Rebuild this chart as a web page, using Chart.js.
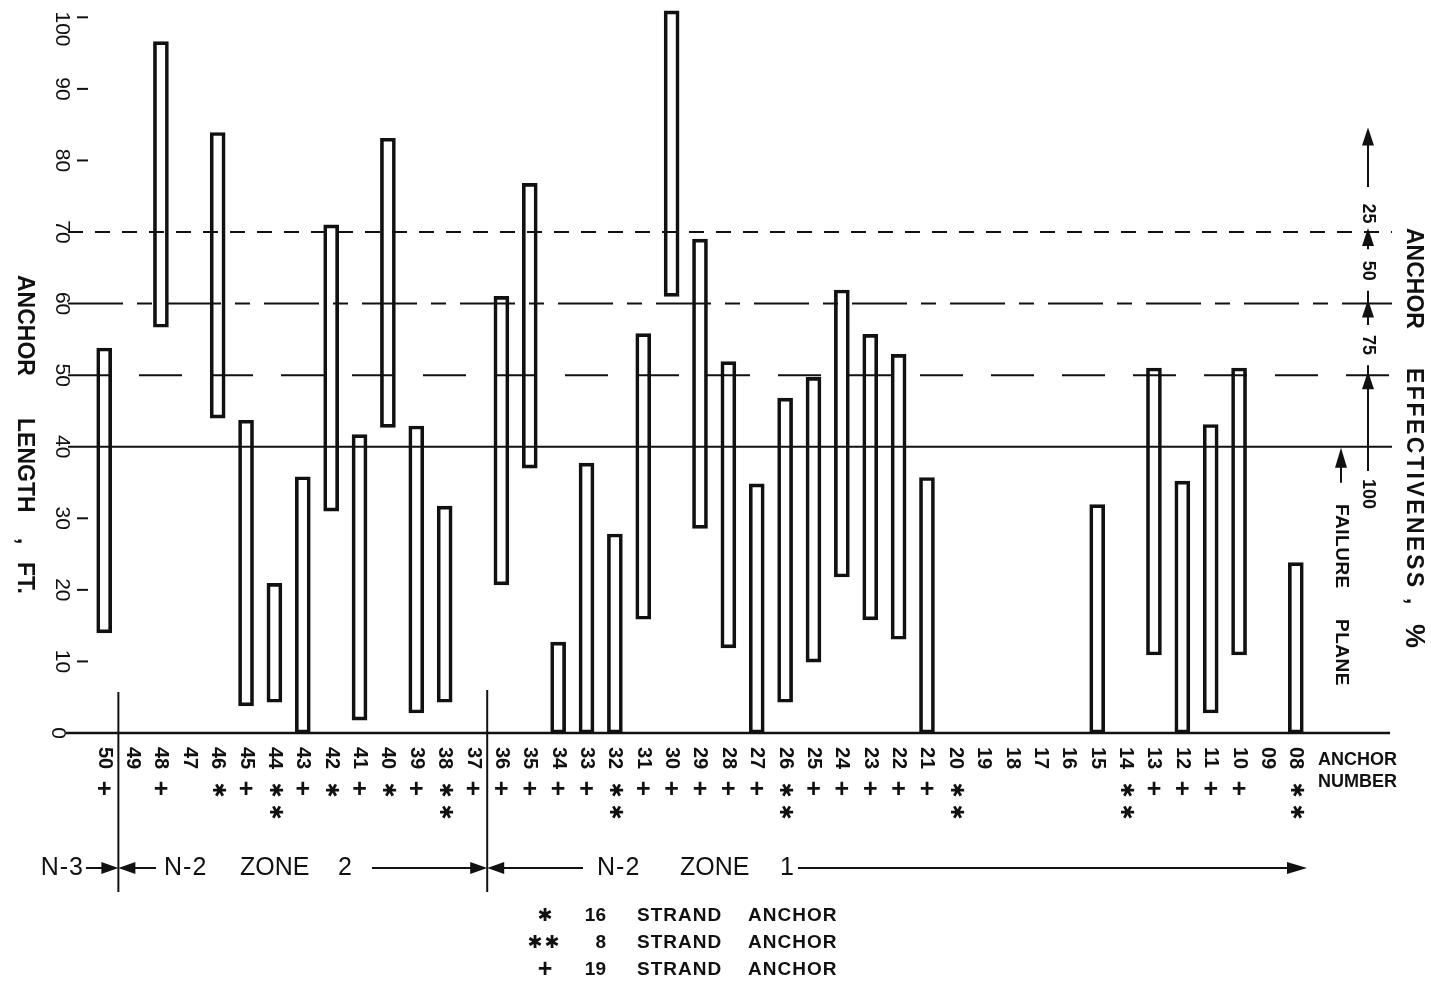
<!DOCTYPE html>
<html>
<head>
<meta charset="utf-8">
<title>Anchor length and effectiveness</title>
<script src="https://cdn.jsdelivr.net/npm/chart.js@4.4.1/dist/chart.umd.min.js"></script>
<style>
  html, body { margin: 0; padding: 0; background: #fff; }
  #wrap { width: 1431px; height: 985px; }
</style>
</head>
<body>
<div id="wrap"><canvas id="anchorChart" width="1431" height="985"></canvas></div>
<script>
// anchor numbers, left to right
const anchorNumbers = ['50', '49', '48', '47', '46', '45', '44', '43', '42', '41', '40', '39', '38', '37',
    '36', '35', '34', '33', '32', '31', '30', '29', '28', '27', '26', '25', '24', '23', '22', '21',
    '20', '19', '18', '17', '16', '15', '14', '13', '12', '11', '10', '09', '08'];

// bottom and top of each anchor bar, ft (null = no bar)
const barLows = [14, null, 56.7, null, 44, 3.8, 4.3, 0, 31, 1.8, 42.7, 2.8, 4.3, null,
    20.7, 37, 0, 0, 0, 15.9, 61, 28.6, 11.9, 0, 4.3, 9.9, 21.8, 15.8, 13.1, 0,
    null, null, null, null, null, 0, null, 10.9, 0, 2.8, 10.9, null, 0];
const barHighs = [53.8, null, 96.6, null, 83.9, 43.7, 20.9, 35.8, 71, 41.7, 83.1, 42.9, 31.7, null,
    61, 76.8, 12.7, 37.7, 27.8, 55.8, 100.9, 69, 51.9, 34.8, 46.8, 49.7, 61.9, 55.7, 52.9, 35.7,
    null, null, null, null, null, 31.9, null, 51, 35.2, 43.1, 51, null, 23.8];

// strand type marks under each anchor number
const strandMarks = ['+', '', '+', '', '*', '+', '**', '+', '*', '+', '*', '+', '**', '+',
    '+', '+', '+', '+', '**', '+', '+', '+', '+', '+', '**', '+', '+', '+', '+', '+',
    '**', '', '', '', '', '', '**', '+', '+', '+', '+', '', '**'];

const lengthTicks = [0, 10, 20, 30, 40, 50, 60, 70, 80, 90, 100];

// failure plane and effectiveness levels (ft) with their effectiveness, %
const levelLengths = [40, 50, 60, 70];
const levelEffectiveness = ['100', '75', '50', '25'];

const legendMarks = ['*', '**', '+'];
const legendStrands = ['16', '8', '19'];

const FONT = '"Liberation Sans", Arial, sans-serif';
const INK = '#111';
const levelDashes = [[], [43, 28], [55, 14, 15, 14], [15, 12]];

const rotText = (ctx, text, px, py, font, align = 'center', spacing = '0px') => {
    ctx.save();
    ctx.translate(px, py);
    ctx.rotate(Math.PI / 2);
    ctx.font = font;
    ctx.letterSpacing = spacing;
    ctx.textAlign = align;
    ctx.textBaseline = 'middle';
    ctx.fillText(text, 0, 0);
    ctx.restore();
};

const flatText = (ctx, text, px, py, font, align = 'left', spacing = '0px') => {
    ctx.save();
    ctx.font = font;
    ctx.letterSpacing = spacing;
    ctx.textAlign = align;
    ctx.textBaseline = 'middle';
    ctx.fillText(text, px, py);
    ctx.restore();
};

const line = (ctx, x1, y1, x2, y2, width = 2) => {
    ctx.lineWidth = width;
    ctx.beginPath();
    ctx.moveTo(x1, y1);
    ctx.lineTo(x2, y2);
    ctx.stroke();
};

const arrowHead = (ctx, tipX, tipY, dir, len = 17, half = 6) => {
    ctx.beginPath();
    ctx.moveTo(tipX, tipY);
    if (dir === 'right') {
        ctx.lineTo(tipX - len, tipY - half);
        ctx.lineTo(tipX - len, tipY + half);
    } else if (dir === 'left') {
        ctx.lineTo(tipX + len, tipY - half);
        ctx.lineTo(tipX + len, tipY + half);
    } else {
        ctx.lineTo(tipX - half, tipY + len);
        ctx.lineTo(tipX + half, tipY + len);
    }
    ctx.closePath();
    ctx.fill();
};

const asterisk = (ctx, px, py, rotated) => {
    ctx.save();
    ctx.translate(px, py);
    if (rotated) ctx.rotate(Math.PI / 2);
    ctx.font = `bold 18px "DejaVu Sans", sans-serif`;
    ctx.textAlign = 'center';
    ctx.textBaseline = 'middle';
    ctx.fillText('\u2731', 0, 0);
    ctx.restore();
};

const figurePlugin = {
    id: 'figureDecor',
    afterDatasetsDraw(chart) {
        const { ctx, scales: { x, y } } = chart;
        const yv = (v) => y.getPixelForValue(v);
        const axisLeft = 68;
        const axisRight = 1392;
        ctx.save();
        ctx.strokeStyle = INK;
        ctx.fillStyle = INK;

        // failure plane and effectiveness lines
        levelLengths.forEach((v, i) => {
            ctx.setLineDash(levelDashes[i]);
            line(ctx, axisLeft, yv(v), axisRight, yv(v), 2);
        });
        ctx.setLineDash([]);

        // base line
        line(ctx, axisLeft - 2, yv(0), axisRight - 2, yv(0), 2.5);

        // length axis ticks and labels
        lengthTicks.forEach((v) => {
            const py = yv(v);
            if (!levelLengths.includes(v) && v !== 0) line(ctx, 77, py, 88, py, 2);
            rotText(ctx, String(v), v === 0 ? 58 : 62, Math.max(py, 29), `21px ${FONT}`);
        });
        const leftTitle = `bold 23px ${FONT}`;
        rotText(ctx, 'ANCHOR', 24, 275, leftTitle, 'left');
        rotText(ctx, 'LENGTH', 24, 418, leftTitle, 'left');
        rotText(ctx, ',', 24, 538, leftTitle, 'left');
        rotText(ctx, 'FT.', 24, 562, leftTitle, 'left');

        // anchor numbers and strand marks
        anchorNumbers.forEach((label, i) => {
            const px = x.getPixelForValue(i);
            rotText(ctx, label, px, 747, `bold 20px ${FONT}`, 'left');
            const mark = strandMarks[i];
            if (mark === '+') {
                flatText(ctx, '+', px, 790, `bold 25px ${FONT}`, 'center');
            } else if (mark === '*') {
                asterisk(ctx, px, 790, true);
            } else if (mark === '**') {
                asterisk(ctx, px, 790, true);
                asterisk(ctx, px, 812, true);
            }
        });
        flatText(ctx, 'ANCHOR', 1318, 760, `bold 18px ${FONT}`);
        flatText(ctx, 'NUMBER', 1318, 782, `bold 18px ${FONT}`);

        // zone boundaries
        const zoneY = 868;
        const sep1 = (x.getPixelForValue(0) + x.getPixelForValue(1)) / 2;
        const sep2 = (x.getPixelForValue(13) + x.getPixelForValue(14)) / 2;
        line(ctx, sep1, 692, sep1, 892, 2);
        line(ctx, sep2, 690, sep2, 892, 2);

        const zoneFont = `25px ${FONT}`;
        flatText(ctx, 'N-3', 84, zoneY, zoneFont, 'right', '1px');
        line(ctx, 86, zoneY, sep1 - 10, zoneY, 2);
        arrowHead(ctx, sep1, zoneY, 'right');
        arrowHead(ctx, sep1, zoneY, 'left');
        line(ctx, sep1 + 10, zoneY, 156, zoneY, 2);
        flatText(ctx, 'N-2', 164, zoneY, zoneFont, 'left', '1px');
        flatText(ctx, 'ZONE', 240, zoneY, zoneFont);
        flatText(ctx, '2', 338, zoneY, zoneFont);
        line(ctx, 372, zoneY, sep2 - 10, zoneY, 2);
        arrowHead(ctx, sep2, zoneY, 'right');
        arrowHead(ctx, sep2, zoneY, 'left');
        line(ctx, sep2 + 10, zoneY, 583, zoneY, 2);
        flatText(ctx, 'N-2', 597, zoneY, zoneFont, 'left', '1px');
        flatText(ctx, 'ZONE', 680, zoneY, zoneFont);
        flatText(ctx, '1', 780, zoneY, zoneFont);
        line(ctx, 798, zoneY, 1295, zoneY, 2);
        arrowHead(ctx, 1307, zoneY, 'right', 20, 6);

        // strand legend
        const legendFont = `bold 19px ${FONT}`;
        legendMarks.forEach((mark, i) => {
            const py = 916 + i * 27;
            if (mark === '+') flatText(ctx, '+', 545, py, `bold 25px ${FONT}`, 'center');
            if (mark === '*') asterisk(ctx, 545, py, false);
            if (mark === '**') {
                asterisk(ctx, 535, py, false);
                asterisk(ctx, 552, py, false);
            }
            flatText(ctx, legendStrands[i], 606, py, legendFont, 'right');
            flatText(ctx, 'STRAND', 637, py, legendFont, 'left', '1px');
            flatText(ctx, 'ANCHOR', 748, py, legendFont, 'left', '1px');
        });

        // effectiveness scale on the right
        const sx = 1368;
        const scaleFont = `bold 18px ${FONT}`;
        arrowHead(ctx, sx, yv(84.6), 'up', 18, 6);
        line(ctx, sx, yv(84.6) + 10, sx, yv(76.3), 2);
        rotText(ctx, levelEffectiveness[3], sx, yv(72.6), scaleFont);
        levelLengths.slice(1).forEach((v) => arrowHead(ctx, sx, yv(v) - 4, 'up', 18, 6));
        line(ctx, sx, yv(70) + 10, sx, yv(67.6), 2);
        rotText(ctx, levelEffectiveness[2], sx, yv(64.6), scaleFont);
        line(ctx, sx, yv(61.8), sx, yv(60), 2);
        line(ctx, sx, yv(60) + 8, sx, yv(57), 2);
        rotText(ctx, levelEffectiveness[1], sx, yv(54.2), scaleFont);
        line(ctx, sx, yv(51.4), sx, yv(50), 2);
        line(ctx, sx, yv(50) + 8, sx, yv(36.6), 2);
        rotText(ctx, levelEffectiveness[0], sx, yv(33.4), scaleFont);

        // failure plane pointer
        arrowHead(ctx, 1341, yv(40) + 1, 'up', 20, 6);
        line(ctx, 1341, yv(40) + 12, 1341, yv(40) + 36, 2);
        rotText(ctx, 'FAILURE', 1341, 504, `bold 19px ${FONT}`, 'left', '0.5px');
        rotText(ctx, 'PLANE', 1341, 619, `bold 19px ${FONT}`, 'left', '0.5px');

        const titleFont = `bold 23px ${FONT}`;
        rotText(ctx, 'ANCHOR', 1413, 228, titleFont, 'left');
        rotText(ctx, 'EFFECTIVENESS', 1413, 368, titleFont, 'left', '2.5px');
        rotText(ctx, ',', 1413, 598, titleFont, 'left');
        rotText(ctx, '%', 1413, 624, `bold 27px ${FONT}`, 'left');

        ctx.restore();
    }
};

new Chart(document.getElementById('anchorChart'), {
    type: 'bar',
    data: {
        labels: anchorNumbers,
        datasets: [{
            data: anchorNumbers.map((_, i) => (barLows[i] === null ? null : [barLows[i], barHighs[i]])),
            backgroundColor: 'rgba(255,255,255,0)',
            borderColor: INK,
            borderWidth: 3,
            borderSkipped: false,
            barThickness: 15
        }]
    },
    options: {
        responsive: false,
        animation: false,
        events: [],
        layout: { padding: { left: 90, right: 121, top: 3, bottom: 252 } },
        plugins: {
            legend: { display: false },
            tooltip: { enabled: false },
            title: { display: false }
        },
        scales: {
            x: { type: 'category', display: false, offset: true },
            y: { display: false, min: 0, max: 102 }
        }
    },
    plugins: [figurePlugin]
});
</script>
</body>
</html>
